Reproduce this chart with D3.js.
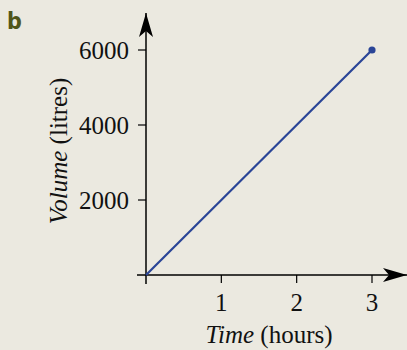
<!DOCTYPE html>
<html><head><meta charset="utf-8">
<script src="https://cdn.jsdelivr.net/npm/d3@7"></script>
<style>
html,body{margin:0;padding:0;background:#EBE9E0;}
svg{display:block;}
</style></head>
<body>
<script>
const timeHours = [0, 3];
const volumeLitres = [0, 6000];
const xTicks = [1, 2, 3];
const yTicks = [2000, 4000, 6000];
const panelLabel = "b";

const W = 407, H = 350;
const svg = d3.select("body").append("svg").attr("width", W).attr("height", H);
svg.append("rect").attr("width", W).attr("height", H).attr("fill", "#EBE9E0");

const x = d3.scaleLinear().domain([0, 3]).range([146, 372]);
const y = d3.scaleLinear().domain([0, 6000]).range([275, 50]);

const serif = "'Liberation Serif', 'Times New Roman', serif";
const fs = 25;

svg.append("defs").append("marker")
  .attr("id", "arr").attr("viewBox", "0 0 24 14").attr("refX", 24).attr("refY", 7)
  .attr("markerWidth", 24).attr("markerHeight", 14).attr("markerUnits", "userSpaceOnUse")
  .attr("orient", "auto")
  .append("path").attr("d", "M0,0 L24,7 L0,14 L6,7 Z").attr("fill", "#000");

svg.append("line").attr("x1", 137).attr("x2", 407).attr("y1", y(0)).attr("y2", y(0))
  .attr("stroke", "#000").attr("stroke-width", 1.5).attr("marker-end", "url(#arr)");
svg.append("line").attr("x1", x(0)).attr("x2", x(0)).attr("y1", 284).attr("y2", 13)
  .attr("stroke", "#000").attr("stroke-width", 1.5).attr("marker-end", "url(#arr)");

svg.selectAll(".xt").data(xTicks).enter().append("line")
  .attr("x1", d => x(d)).attr("x2", d => x(d)).attr("y1", y(0)).attr("y2", y(0) + 8)
  .attr("stroke", "#000").attr("stroke-width", 1.2);
svg.selectAll(".yt").data(yTicks).enter().append("line")
  .attr("x1", x(0) - 8).attr("x2", x(0)).attr("y1", d => y(d)).attr("y2", d => y(d))
  .attr("stroke", "#000").attr("stroke-width", 1.2);

svg.selectAll(".xl").data(xTicks).enter().append("text")
  .attr("x", d => x(d)).attr("y", 311).attr("text-anchor", "middle")
  .attr("font-family", serif).attr("font-size", fs).attr("fill", "#111").text(d => d);
svg.selectAll(".yl").data(yTicks).enter().append("text")
  .attr("x", 129).attr("y", d => y(d) + 9).attr("text-anchor", "end")
  .attr("font-family", serif).attr("font-size", fs).attr("fill", "#111").text(d => d);

const xt = svg.append("text").attr("x", 269).attr("y", 343).attr("text-anchor", "middle")
  .attr("font-family", serif).attr("font-size", fs).attr("fill", "#111");
xt.append("tspan").attr("font-style", "italic").text("Time");
xt.append("tspan").text(" (hours)");

const yt = svg.append("text").attr("transform", "translate(67,151) rotate(-90)")
  .attr("text-anchor", "middle").attr("font-family", serif).attr("font-size", fs).attr("fill", "#111");
yt.append("tspan").attr("font-style", "italic").text("Volume");
yt.append("tspan").text(" (litres)");

const line = d3.line().x((d, i) => x(timeHours[i])).y(d => y(d));
svg.append("path").datum(volumeLitres).attr("d", line)
  .attr("fill", "none").attr("stroke", "#2A4597").attr("stroke-width", 2.2);
svg.append("circle").attr("cx", x(timeHours[1])).attr("cy", y(volumeLitres[1])).attr("r", 3.6)
  .attr("fill", "#2A4597");

svg.append("text").attr("x", 7).attr("y", 29)
  .attr("font-family", "'Liberation Sans Narrow', 'DejaVu Sans Condensed', sans-serif")
  .attr("font-weight", "bold").attr("font-size", 23).attr("fill", "#50561A").text(panelLabel);
</script>
</body></html>
